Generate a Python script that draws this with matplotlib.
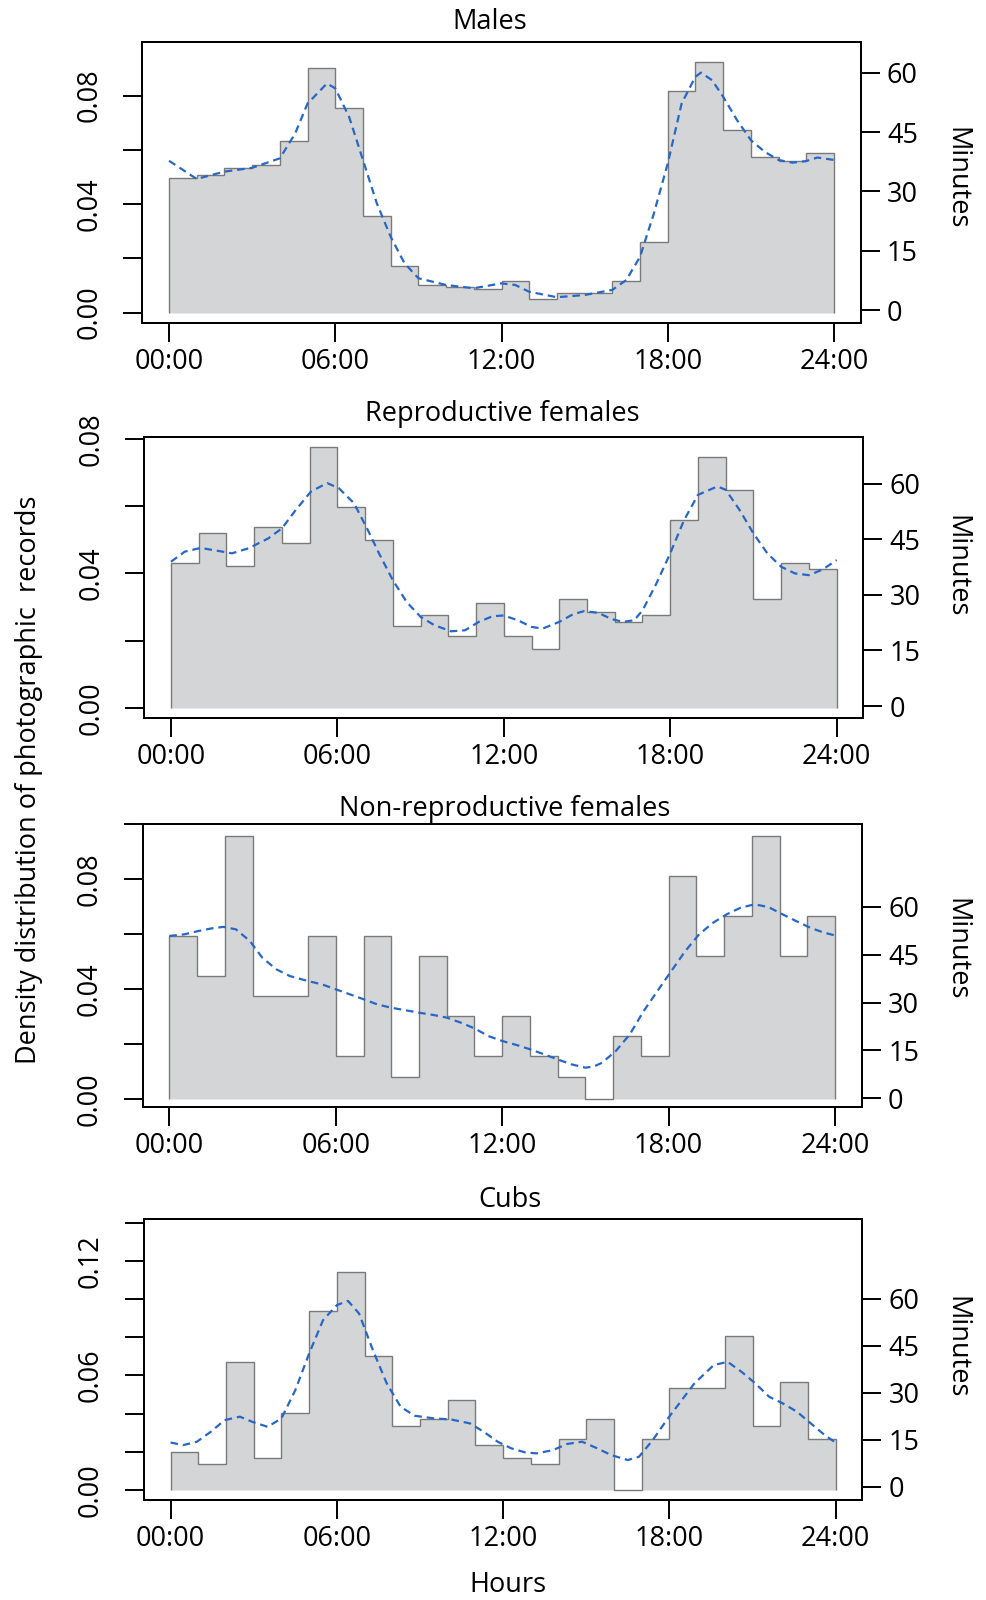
import matplotlib
matplotlib.use("Agg")
import matplotlib.pyplot as plt

plt.rcParams['font.family'] = ['Open Sans', 'DejaVu Sans']

# hour bins of the histograms
hour_edges = list(range(25))
hour_ticks = [0, 6, 12, 18, 24]
hour_labels = ["00:00", "06:00", "12:00", "18:00", "24:00"]
minute_ticks = [0, 15, 30, 45, 60]

# Males
males_dens = [0.0498, 0.0506, 0.0534, 0.0543, 0.0633, 0.0903, 0.0755, 0.0357,
              0.0171, 0.0103, 0.0096, 0.0086, 0.0118, 0.0050, 0.0071, 0.0071,
              0.0118, 0.0262, 0.0818, 0.0923, 0.0674, 0.0574, 0.0560, 0.0587]
males_kde_h = [0, 1, 2, 3, 4, 4.55, 5, 5.7, 6, 6.5, 7, 7.5, 8, 8.5, 9, 10, 11,
               12, 12.5, 13, 14, 15, 16, 16.5, 17, 17.5, 18, 18.5, 19, 19.2,
               19.6, 20, 20.5, 21, 21.5, 22, 22.5, 23, 23.4, 24]
males_kde_d = [0.056, 0.0493, 0.052, 0.0534, 0.0569, 0.066, 0.0771, 0.0845,
               0.0827, 0.0722, 0.0563, 0.0403, 0.028, 0.0182, 0.0127, 0.0102,
               0.009, 0.0108, 0.0102, 0.0077, 0.0057, 0.0065, 0.0084, 0.012,
               0.0206, 0.0366, 0.055, 0.0771, 0.087, 0.0885, 0.0857, 0.0796,
               0.071, 0.0636, 0.0593, 0.0563, 0.0553, 0.0559, 0.0572, 0.0563]

# Reproductive females
repro_dens = [0.0432, 0.0519, 0.0422, 0.0539, 0.0491, 0.0776, 0.0599, 0.0501,
              0.0244, 0.0275, 0.0215, 0.0313, 0.0215, 0.0175, 0.0323, 0.0284,
              0.0255, 0.0275, 0.0560, 0.0746, 0.0649, 0.0323, 0.0432, 0.0412]
repro_kde_h = [0, 0.5, 1.07, 1.65, 2.2, 2.8, 3.5, 4, 4.5, 5.05, 5.63, 6.05, 6.6,
               7.1, 7.5, 8, 8.5, 9, 9.5, 10.1, 10.6, 11.1, 11.6, 12, 12.5, 13,
               13.4, 14, 14.5, 14.9, 15.4, 15.9, 16.3, 16.7, 17, 17.5, 18, 18.5,
               19, 19.7, 20, 20.5, 21, 21.5, 22, 22.5, 23, 23.5, 24]
repro_kde_d = [0.0435, 0.0465, 0.0476, 0.0468, 0.046, 0.0475, 0.0504, 0.0534,
               0.0589, 0.0644, 0.0669, 0.0654, 0.0609, 0.0529, 0.046, 0.038,
               0.0315, 0.0271, 0.0246, 0.0228, 0.0231, 0.0256, 0.0273, 0.0275,
               0.0261, 0.0241, 0.0236, 0.0256, 0.0279, 0.0288, 0.0283, 0.0264,
               0.0256, 0.0261, 0.029, 0.037, 0.046, 0.0559, 0.0634, 0.0659,
               0.0649, 0.0589, 0.0519, 0.046, 0.042, 0.04, 0.0395, 0.0412, 0.044]

# Non-reproductive females
nonrep_dens = [0.0594, 0.0448, 0.0958, 0.0376, 0.0376, 0.0594, 0.0158, 0.0594,
               0.0082, 0.0521, 0.0303, 0.0158, 0.0303, 0.0158, 0.0082, 0.0,
               0.0230, 0.0158, 0.0812, 0.0521, 0.0667, 0.0958, 0.0521, 0.0667]
nonrep_kde_h = [0, 0.55, 1.05, 1.55, 1.95, 2.4, 2.9, 3.35, 3.85, 4.35, 5, 5.5,
                6, 6.5, 7, 7.5, 8, 8.5, 9, 9.5, 10, 10.5, 11, 11.5, 12, 12.5,
                13, 13.5, 14, 14.5, 15, 15.3, 15.6, 16.1, 16.6, 17.1, 17.6,
                18.1, 18.6, 19.1, 19.6, 20.1, 20.6, 21.1, 21.6, 22.1, 22.6,
                23.1, 23.6, 24]
nonrep_kde_d = [0.0594, 0.06, 0.0612, 0.0622, 0.0627, 0.0618, 0.0576, 0.0515,
                0.0473, 0.0448, 0.043, 0.0418, 0.04, 0.0382, 0.0364, 0.0345,
                0.0333, 0.0324, 0.0315, 0.0307, 0.0297, 0.0279, 0.0258, 0.023,
                0.0212, 0.0198, 0.0182, 0.0164, 0.0145, 0.0127, 0.0115, 0.0119,
                0.0133, 0.0176, 0.0236, 0.0321, 0.0394, 0.0467, 0.0539, 0.06,
                0.0642, 0.0673, 0.0697, 0.0709, 0.0699, 0.0673, 0.0648, 0.0624,
                0.0606, 0.0596]

# Cubs
cubs_dens = [0.0201, 0.0134, 0.0670, 0.0169, 0.0403, 0.0938, 0.1139, 0.0704,
             0.0335, 0.0371, 0.0471, 0.0234, 0.0169, 0.0134, 0.0269, 0.0370,
             0.0, 0.0269, 0.0535, 0.0535, 0.0806, 0.0335, 0.0568, 0.0269]
cubs_kde_h = [0, 0.45, 0.95, 1.45, 1.95, 2.5, 2.95, 3.5, 4, 4.5, 5, 5.5, 6, 6.4,
              6.8, 7.3, 7.8, 8.3, 8.8, 9.5, 10.1, 10.8, 11.3, 11.8, 12.3, 12.8,
              13.2, 13.8, 14.3, 14.85, 15.4, 15.9, 16.5, 16.9, 17.4, 17.9, 18.4,
              18.9, 19.6, 20.1, 20.6, 21.1, 21.6, 22.1, 22.6, 23.1, 23.6, 24]
cubs_kde_d = [0.0249, 0.0235, 0.0253, 0.0305, 0.0366, 0.0384, 0.0357, 0.0331,
              0.0375, 0.0523, 0.0715, 0.0889, 0.0968, 0.099, 0.0924, 0.0732,
              0.0558, 0.0436, 0.0389, 0.0375, 0.037, 0.0349, 0.0305, 0.0253,
              0.0218, 0.0197, 0.0192, 0.0209, 0.0241, 0.0253, 0.0218, 0.0183,
              0.0157, 0.0174, 0.0262, 0.0366, 0.0462, 0.0558, 0.0654, 0.0671,
              0.0619, 0.0558, 0.0488, 0.0453, 0.041, 0.0349, 0.0288, 0.0248]

W, H = 987, 1600
FS = 19.5
BOX_LW = 1.4


def px_axes(fig, left, right, top, bottom):
    # axes rectangle given in pixel coordinates of the picture
    return fig.add_axes([left / W, 1 - bottom / H, (right - left) / W, (bottom - top) / H])


def draw_panel(fig, box, title, title_xy, dens, kde_h, kde_d,
               ylim, yticks, ylabels, mlim, minutes_y):
    ax = px_axes(fig, *box)
    ax.stairs(dens, hour_edges, baseline=0, fill=True,
              facecolor="#d4d5d6", edgecolor="#7a7a7a", linewidth=1.0)
    ax.plot(kde_h, kde_d, color="#2767c7", linewidth=1.6,
            linestyle=(0, (3.4, 2.2)))

    ax.set_xlim(-0.96, 24.96)
    ax.set_ylim(*ylim)
    ax.set_xticks(hour_ticks)
    ax.set_xticklabels(hour_labels, fontsize=FS)
    ax.set_yticks(yticks)
    ax.set_yticklabels(ylabels, fontsize=FS, rotation=90, va="center")
    ax.tick_params(axis="x", direction="out", length=14, width=BOX_LW, pad=4)
    ax.tick_params(axis="y", direction="out", length=14, width=BOX_LW, pad=14)
    for s in ax.spines.values():
        s.set_linewidth(BOX_LW)

    ax2 = ax.twinx()
    ax2.set_ylim(*mlim)
    ax2.set_yticks(minute_ticks)
    ax2.set_yticklabels([str(m) for m in minute_ticks], fontsize=FS)
    ax2.tick_params(axis="y", direction="out", length=14, width=BOX_LW, pad=5)
    for s in ax2.spines.values():
        s.set_linewidth(BOX_LW)

    fig.text(title_xy[0] / W, 1 - title_xy[1] / H, title, fontsize=FS,
             ha="center", va="center")
    fig.text(956 / W, 1 - minutes_y / H, "Minutes", fontsize=FS,
             rotation=270, ha="center", va="center")
    return ax


fig = plt.figure(figsize=(W / 100, H / 100), dpi=100)

draw_panel(fig, (142.4, 860.6, 41.7, 322.7), "Males", (490, 22),
           males_dens, males_kde_h, males_kde_d,
           (-0.0037, 0.0999), [0, 0.02, 0.04, 0.06, 0.08],
           ["0.00", "", "0.04", "", "0.08"], (-3.21, 67.84), 178)

draw_panel(fig, (144.3, 863.3, 436.7, 718.0), "Reproductive females", (502, 414),
           repro_dens, repro_kde_h, repro_kde_d,
           (-0.0030, 0.0807), [0, 0.02, 0.04, 0.06, 0.08],
           ["0.00", "", "0.04", "", "0.08"], (-3.24, 72.76), 566)

draw_panel(fig, (142.7, 861.7, 824.3, 1107.0), "Non-reproductive females", (505, 809),
           nonrep_dens, nonrep_kde_h, nonrep_kde_d,
           (-0.0028, 0.1000), [0, 0.02, 0.04, 0.06, 0.08, 0.10],
           ["0.00", "", "0.04", "", "0.08", ""], (-2.72, 85.8), 949)

draw_panel(fig, (144.0, 862.3, 1218.5, 1500.0), "Cubs", (510, 1200),
           cubs_dens, cubs_kde_h, cubs_kde_d,
           (-0.0052, 0.1421), [0, 0.02, 0.04, 0.06, 0.08, 0.10, 0.12, 0.14],
           ["0.00", "", "", "0.06", "", "", "0.12", ""], (-4.25, 85.6), 1347)

fig.text(29 / W, 1 - 780 / H, "Density distribution of photographic  records",
         fontsize=FS, rotation=90, ha="center", va="center")
fig.text(508 / W, 1 - 1585 / H, "Hours", fontsize=FS, ha="center", va="center")

fig.savefig("out.png", dpi=100)
